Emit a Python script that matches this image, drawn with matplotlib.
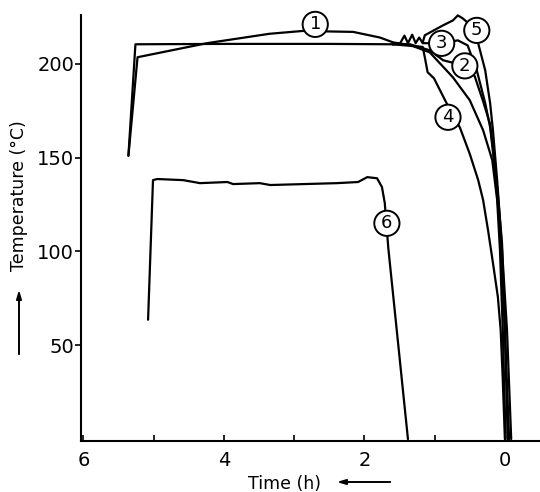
import matplotlib
matplotlib.use('Agg')
import matplotlib.pyplot as plt

# curve values: time (h, counting down) vs temperature (degC)
time1 = [5.36, 5.23, 4.24, 3.35, 2.88, 2.16, 1.78, 1.59, 1.35, 1.07, 0.74, 0.50, 0.31,
         0.18, 0.11, 0.07, 0.03, -0.01]
temp1 = [151, 203.5, 211, 216, 217.5, 217, 214, 211.4, 210, 206.1, 192.8, 180.6, 164.6,
         148.7, 127.4, 100.8, 58.2, 0]

time2 = [1.6, 1.35, 1.07, 0.88, 0.57, 0.43, 0.31, 0.21, 0.16, 0.10, 0.04, 0.0, -0.04]
temp2 = [210.4, 210.4, 207.2, 201.9, 198.9, 193.4, 180, 167.8, 151.9, 130.6, 104, 58.2, 0]

time3 = [1.6, 1.49, 1.43, 1.38, 1.32, 1.27, 1.22, 1.17, 0.90, 0.67, 0.53, 0.40, 0.28,
         0.21, 0.14, 0.07, 0.0, -0.06]
temp3 = [210.4, 211, 215, 211, 215.5, 211, 214, 211, 210.9, 212.5, 209.8, 196.5, 179,
         166.2, 143.4, 111.4, 58.2, 0]

time4 = [5.36, 5.26, 4.0, 2.5, 1.6, 1.17, 1.14, 1.10, 1.01, 0.83, 0.64, 0.50, 0.38, 0.31,
         0.24, 0.17, 0.10, 0.06, 0.03, 0.0]
temp4 = [151, 210.4, 210.6, 210.6, 210.4, 209, 203.5, 195.5, 192.3, 179, 166, 152, 138,
         127.4, 111.4, 93.9, 75.8, 58.2, 31.6, 0]

time5 = [1.17, 1.14, 0.88, 0.74, 0.67, 0.60, 0.40, 0.38, 0.28, 0.21, 0.17, 0.11, 0.04,
         -0.03, -0.09]
temp5 = [211.4, 215.2, 220.5, 223.1, 225.8, 224.2, 217.8, 210.9, 196.5, 179, 164.6, 138,
         100.8, 58.2, 0]

time6 = [5.08, 5.01, 4.95, 4.58, 4.34, 3.95, 3.87, 3.49, 3.34, 2.39, 2.09, 1.96, 1.82,
         1.75, 1.71, 1.66, 1.38]
temp6 = [63.6, 138, 138.6, 138, 136.4, 137, 135.9, 136.4, 135.4, 136.4, 137, 139.6, 139,
         134.3, 125.8, 101.9, 0]

curves = [(time1, temp1), (time2, temp2), (time3, temp3),
          (time4, temp4), (time5, temp5), (time6, temp6)]

# where the circled curve numbers sit
label_names = ['1', '2', '3', '4', '5', '6']
label_time = [2.70, 0.57, 0.90, 0.81, 0.40, 1.68]
label_temp = [221, 198.9, 210.9, 171.5, 217.8, 115]

x_major = [6, 4, 2, 0]
x_minor = [5, 3, 1]
y_ticks = [50, 100, 150, 200]

plt.rcParams['font.family'] = ['DejaVu Sans']

fig = plt.figure(figsize=(5.4, 4.92), dpi=100)
ax = fig.add_axes([0.15, 0.1037, 0.85, 0.8658])

for t, T in curves:
    ax.plot(t, T, color='black', lw=1.6, solid_capstyle='round',
            solid_joinstyle='round', clip_on=False, zorder=2)

for name, t, T in zip(label_names, label_time, label_temp):
    ax.text(t, T, name, fontsize=13, ha='center', va='center', zorder=5,
            bbox=dict(boxstyle='circle,pad=0.2', fc='white', ec='black', lw=1.4))

ax.set_xlim(6.035, -0.5)
ax.set_ylim(-1, 226)

ax.spines['top'].set_visible(False)
ax.spines['right'].set_visible(False)
ax.spines['left'].set_linewidth(1.5)
ax.spines['bottom'].set_linewidth(1.5)

ax.set_xticks(x_major)
ax.set_xticks(x_minor, minor=True)
ax.set_yticks(y_ticks)
ax.tick_params(axis='x', which='both', direction='in', length=4, width=1.2,
               labelsize=14, pad=7)
ax.tick_params(axis='y', direction='out', length=4, width=1.2, labelsize=14, pad=1)

# axis titles with the little arrows
fig.text(19 / 540, 1 - 196 / 492, 'Temperature (°C)', rotation=90,
         fontsize=12.5, ha='center', va='center')
ax.annotate('', xy=(19 / 540, 1 - 287 / 492), xytext=(19 / 540, 1 - 357 / 492),
            xycoords='figure fraction', textcoords='figure fraction',
            arrowprops=dict(arrowstyle='-|>,head_length=0.5,head_width=0.15',
                            color='black', lw=1.4))
fig.text(285 / 540, 1 - 484 / 492, 'Time (h)', fontsize=12.5, ha='center', va='center')
ax.annotate('', xy=(334 / 540, 1 - 482 / 492), xytext=(393 / 540, 1 - 482 / 492),
            xycoords='figure fraction', textcoords='figure fraction',
            arrowprops=dict(arrowstyle='-|>,head_length=0.5,head_width=0.15',
                            color='black', lw=1.4))

fig.savefig('out.png', dpi=100, facecolor='white')
